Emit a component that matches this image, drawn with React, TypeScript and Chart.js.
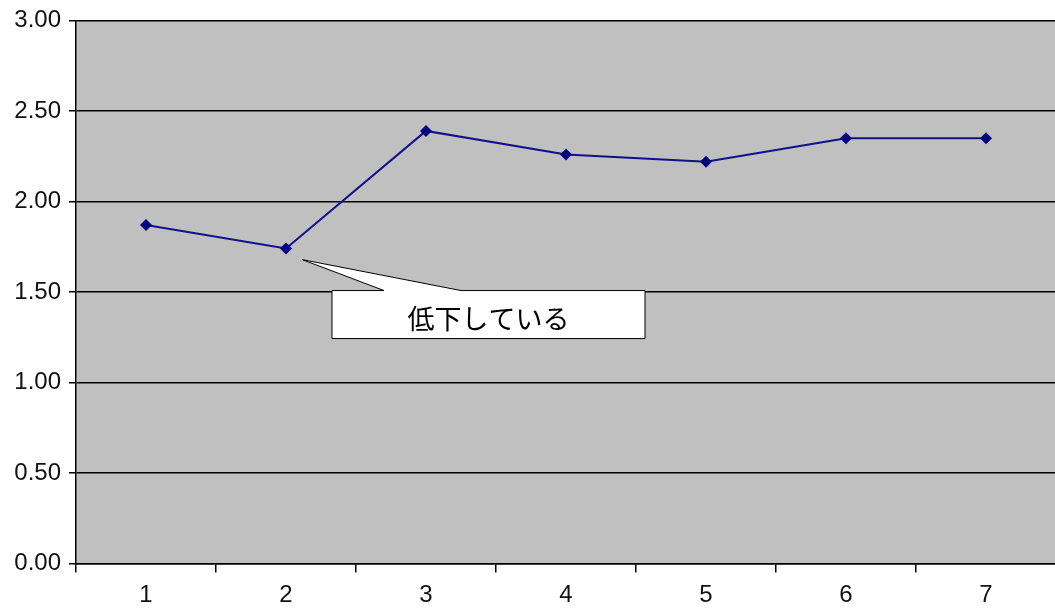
import React, { useEffect, useRef } from "react";
import { Chart, registerables } from "chart.js";

Chart.register(...registerables);

const categories = ["1", "2", "3", "4", "5", "6", "7"];
const seriesValues = [1.87, 1.74, 2.39, 2.26, 2.22, 2.35, 2.35];
const yTicks = [0, 0.5, 1, 1.5, 2, 2.5, 3];
const calloutText = "低下している";
const calloutIndex = 1;

// gray plot background
const plotBackground = {
  id: "plotBackground",
  beforeDraw(chart: any) {
    const { ctx, chartArea } = chart;
    ctx.save();
    ctx.fillStyle = "#c0c0c0";
    ctx.fillRect(chartArea.left, chartArea.top, chartArea.right - chartArea.left, chartArea.bottom - chartArea.top);
    ctx.restore();
  },
};

// speech-bubble callout pointing at one data point
const callout = {
  id: "callout",
  afterDatasetsDraw(chart: any) {
    const { ctx } = chart;
    const meta = chart.getDatasetMeta(0);
    const pt = meta.data[calloutIndex];
    if (!pt) return;
    const px = pt.x;
    const py = pt.y;
    const boxL = px + 46;
    const boxT = py + 42;
    const boxW = 313;
    const boxH = 48;
    ctx.save();
    ctx.fillStyle = "#ffffff";
    ctx.strokeStyle = "#000000";
    ctx.lineWidth = 1;
    ctx.beginPath();
    ctx.moveTo(boxL, boxT);
    ctx.lineTo(px + 98, boxT);
    ctx.lineTo(px + 16, py + 11);
    ctx.lineTo(px + 175, boxT);
    ctx.lineTo(boxL + boxW, boxT);
    ctx.lineTo(boxL + boxW, boxT + boxH);
    ctx.lineTo(boxL, boxT + boxH);
    ctx.closePath();
    ctx.fill();
    ctx.stroke();
    ctx.fillStyle = "#000000";
    ctx.font = '27px "Noto Sans CJK JP"';
    ctx.textAlign = "center";
    ctx.textBaseline = "middle";
    ctx.fillText(calloutText, boxL + boxW / 2, boxT + boxH / 2 + 4);
    ctx.restore();
  },
};

export default function App() {
  const canvasRef = useRef<HTMLCanvasElement | null>(null);

  useEffect(() => {
    if (!canvasRef.current) return;
    const chart = new Chart(canvasRef.current, {
      type: "line",
      data: {
        labels: categories,
        datasets: [
          {
            data: seriesValues,
            borderColor: "#10108a",
            backgroundColor: "#000080",
            borderWidth: 2,
            pointStyle: "rectRot",
            pointRadius: 6,
            pointBorderWidth: 0,
            tension: 0,
          },
        ],
      },
      options: {
        animation: false,
        responsive: false,
        layout: { padding: { top: 20.5, right: 2, left: 0, bottom: 0 } },
        plugins: {
          legend: { display: false },
          tooltip: { enabled: false },
        },
        scales: {
          x: {
            offset: true,
            grid: {
              offset: true,
              drawOnChartArea: false,
              drawTicks: true,
              tickLength: 9,
              color: "#000",
              lineWidth: 1.5,
            },
            border: { color: "#000", width: 1.5 },
            ticks: {
              color: "#111",
              font: { family: '"Liberation Sans", Arial, sans-serif', size: 24 },
              padding: 8,
            },
            afterFit(scale: any) {
              scale.height = 44.5;
              scale.paddingLeft = 0;
              scale.paddingRight = 0;
            },
          },
          y: {
            min: 0,
            max: 3,
            afterBuildTicks(scale: any) {
              scale.ticks = yTicks.map((v) => ({ value: v }));
            },
            grid: {
              color: "#000",
              lineWidth: 1.5,
              tickLength: 7,
            },
            border: { color: "#000", width: 1.5 },
            ticks: {
              color: "#111",
              font: { family: '"Liberation Sans", Arial, sans-serif', size: 24 },
              padding: 8,
              callback: (v: any) => Number(v).toFixed(2),
            },
            afterFit(scale: any) {
              scale.width = 76;
              scale.paddingTop = 0;
              scale.paddingBottom = 0;
            },
          },
        },
      },
      plugins: [plotBackground, callout],
    });
    return () => chart.destroy();
  }, []);

  return (
    <div style={{ position: "fixed", left: 0, top: 0, width: 1055, height: 608, overflow: "hidden", background: "#fff" }}>
      <canvas ref={canvasRef} width={1062} height={608} style={{ display: "block", width: 1062, height: 608 }} />
    </div>
  );
}
